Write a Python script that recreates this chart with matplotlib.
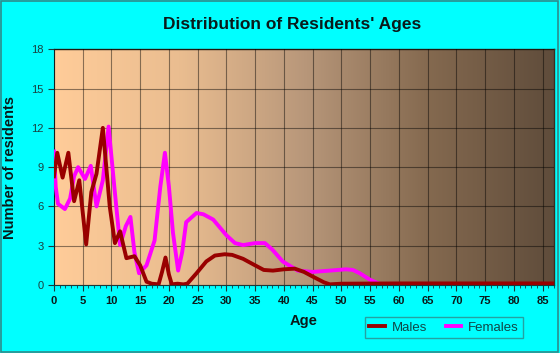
import numpy as np
import matplotlib
matplotlib.use("Agg")
import matplotlib.pyplot as plt
from matplotlib.colors import LinearSegmentedColormap
from matplotlib.ticker import MultipleLocator

plt.rcParams['font.family'] = ['Liberation Sans', 'DejaVu Sans']

# values
male_age = [0, 0.57, 1.5, 2.5, 3.5, 4.4, 5.6, 6.5, 7.4, 8.5, 9.7, 10.6, 11.5, 12.6,
            14, 15, 16.1, 17, 18.2, 18.8, 19.4, 20, 20.5, 21.5, 22.5, 23.2, 24.8,
            26.5, 28, 29.7, 31, 32.9, 35, 36.5, 38.1, 40, 41.9, 43.5, 45, 47, 48,
            50, 60, 87]
male_val = [8.3, 10.1, 8.2, 10.1, 6.4, 8.0, 3.1, 7.1, 8.5, 12, 6.0, 3.2, 4.1, 2.05,
            2.2, 1.5, 0.25, 0.1, 0.05, 1.0, 2.1, 0.8, 0.05, 0.1, 0.05, 0.1, 0.9,
            1.8, 2.25, 2.35, 2.3, 2.0, 1.5, 1.15, 1.1, 1.2, 1.25, 1.0, 0.65, 0.2, 0.05,
            0.1, 0.12, 0.12]

female_age = [0, 0.3, 0.7, 1.9, 2.8, 3.5, 4.2, 5.4, 6.4, 7.4, 8.5, 9.5, 10.5, 11.5,
              12.5, 13.3, 14.0, 14.8, 16.1, 17.5, 18.5, 19.3, 20.0, 20.7, 21.6, 22.3,
              23.0, 24.8, 26, 27.7, 30, 31.5, 32.9, 35, 36.7, 38, 39.8, 42.4, 45, 48,
              50.8, 52, 53.2, 55, 56.6, 58.4, 87]
female_val = [10.2, 7.5, 6.2, 5.8, 6.6, 8.3, 9.0, 8.1, 9.1, 6.0, 8.0, 12.1, 7.5, 3.05,
              4.5, 5.2, 2.5, 0.9, 1.5, 3.4, 7.5, 10.1, 7.5, 4.0, 1.1, 2.5,
              4.8, 5.5, 5.4, 5.0, 3.8, 3.2, 3.05, 3.2, 3.2, 2.7, 1.8, 1.1, 1.0, 1.1,
              1.2, 1.15, 0.9, 0.4, 0.1, 0.0, 0.0]

x_max = 87
y_max = 18

fig = plt.figure(figsize=(5.6, 3.53), dpi=100, facecolor='#00FFFF')
ax = fig.add_axes([0.0964, 0.1926, 0.8929, 0.6677])

# gradient background
cmap = LinearSegmentedColormap.from_list(
    'bg', [(0, '#FFCC99'), (0.25, '#EABD90'), (0.5, '#B8977A'), (0.75, '#84694F'), (1, '#5F4C3B')])
grad = np.linspace(0, 1, 256).reshape(1, -1)
ax.imshow(grad, extent=[0, x_max, 0, y_max], aspect='auto', cmap=cmap, zorder=0)

ax.plot(female_age, female_val, color='#FF00FF', lw=2.8, label='Females', zorder=3,
        solid_joinstyle='round')
ax.plot(male_age, male_val, color='#990000', lw=2.8, label='Males', zorder=4,
        solid_joinstyle='round')

ax.set_xlim(0, x_max)
ax.set_ylim(0, y_max)
ax.xaxis.set_major_locator(MultipleLocator(5))
ax.xaxis.set_minor_locator(MultipleLocator(1))
ax.yaxis.set_major_locator(MultipleLocator(3))
ax.grid(True, which='major', color='black', alpha=0.45, lw=0.8, zorder=1)
ax.set_axisbelow(False)

for side in ['top', 'right']:
    ax.spines[side].set_color('#3a2e22')
    ax.spines[side].set_linewidth(1.0)
ax.spines['left'].set_color('#1a3a3a')
ax.spines['bottom'].set_color('#1a3a3a')

ax.tick_params(axis='x', which='major', length=4, color='#1a3a3a', labelsize=8,
               labelcolor='#0a1a1a', pad=4)
ax.tick_params(axis='x', which='minor', length=2.5, color='#1a3a3a')
ax.tick_params(axis='y', length=4, color='#1a3a3a', labelsize=8, labelcolor='#1a4040')
for lbl in ax.get_xticklabels():
    lbl.set_fontweight('bold')

ax.set_xlabel('Age', fontsize=10.5, fontweight='bold', color='#0a1a1a', labelpad=6)
ax.set_ylabel('Number of residents', fontsize=10.5, fontweight='bold', color='#0a1a1a', labelpad=10)

fig.text(292 / 560, 1 - 24 / 353, "Distribution of Residents' Ages", ha='center', va='center',
         fontsize=12.5, fontweight='bold', color='#0a1a1a')

handles, labels = ax.get_legend_handles_labels()
leg = fig.legend(handles[::-1], labels[::-1], loc='center', ncol=2,
                 bbox_to_anchor=(444 / 560, 1 - 327.5 / 353), frameon=True, fancybox=False,
                 facecolor='#00FFFF', edgecolor='#2E8B8B', fontsize=9.5, handlelength=1.2,
                 columnspacing=1.4, handletextpad=0.5, borderpad=0.3)
leg.get_frame().set_linewidth(1.0)
for t in leg.get_texts():
    t.set_color('#104848')

# outer border
fig.patches.append(plt.Rectangle((0.002, 0.003), 0.995, 0.994, transform=fig.transFigure,
                                 fill=False, edgecolor='#2E8B8B', lw=1.2))

fig.savefig('out.png', dpi=100, facecolor=fig.get_facecolor())
